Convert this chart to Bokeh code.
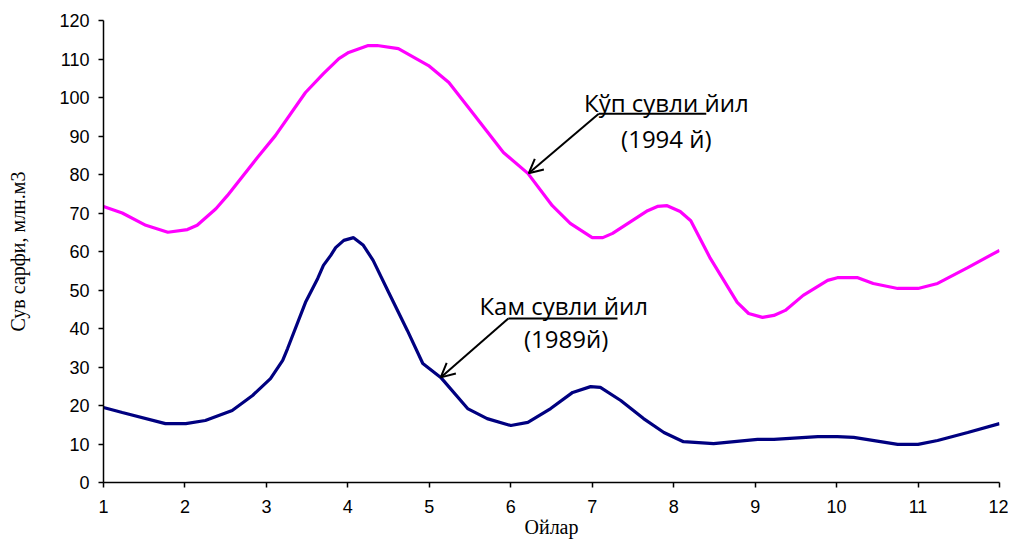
from bokeh.plotting import figure
from bokeh.models import Range1d, Arrow, OpenHead, FixedTicker, Label
from bokeh.embed import file_html
from bokeh.resources import INLINE

# Кўп сувли йил (1994 й)
x1994 = [1.00, 1.23, 1.52, 1.79, 2.03, 2.15, 2.38, 2.52, 2.89, 3.11, 3.48, 3.70, 3.89, 4.01,
         4.25, 4.36, 4.62, 4.99, 5.24, 5.54, 5.91, 6.21, 6.51, 6.73, 7.00, 7.13, 7.25, 7.68,
         7.80, 7.92, 8.08, 8.21, 8.45, 8.78, 8.92, 9.09, 9.23, 9.37, 9.59, 9.89, 10.01, 10.26,
         10.45, 10.75, 11.00, 11.24, 11.61, 12.00]
y1994 = [71.7, 70.0, 66.8, 65.0, 65.7, 66.8, 71.1, 74.5, 84.4, 90.1, 101.3, 106.2, 110.1, 111.7,
         113.5, 113.5, 112.7, 108.3, 103.9, 95.8, 85.7, 80.3, 71.9, 67.3, 63.6, 63.6, 64.7, 70.6,
         71.7, 71.9, 70.4, 68.0, 58.2, 46.8, 43.9, 42.9, 43.4, 44.7, 48.6, 52.5, 53.2, 53.2,
         51.7, 50.4, 50.4, 51.7, 55.8, 60.3]

# Кам сувли йил (1989 й)
x1989 = [1.00, 1.23, 1.76, 2.01, 2.25, 2.58, 2.83, 3.05, 3.20, 3.26, 3.48, 3.63, 3.70, 3.79,
         3.85, 3.95, 4.07, 4.19, 4.31, 4.50, 4.73, 4.92, 5.14, 5.47, 5.71, 6.00, 6.21, 6.49,
         6.76, 6.98, 7.10, 7.35, 7.63, 7.88, 8.12, 8.49, 9.03, 9.23, 9.77, 10.01, 10.21, 10.75,
         11.00, 11.24, 11.61, 12.00]
y1989 = [19.5, 18.2, 15.3, 15.3, 16.1, 18.7, 22.6, 27.0, 31.7, 34.8, 46.8, 53.0, 56.4, 59.0,
         61.0, 62.9, 63.6, 61.6, 57.7, 49.4, 39.5, 30.9, 27.3, 19.2, 16.6, 14.8, 15.6, 19.2,
         23.4, 24.9, 24.7, 21.3, 16.6, 13.0, 10.6, 10.1, 11.2, 11.2, 11.9, 11.9, 11.7, 9.9,
         9.9, 10.9, 13.0, 15.3]

x_ticks = list(range(1, 13))
y_ticks = list(range(0, 121, 10))

p = figure(width=1008, height=542, output_backend="svg", toolbar_location=None,
           x_range=Range1d(1, 12), y_range=Range1d(0, 120),
           min_border_left=103, min_border_right=9, min_border_top=20, min_border_bottom=60)
p.outline_line_color = None
p.background_fill_color = "white"
p.border_fill_color = "white"
p.grid.visible = False

for ax in (p.xaxis[0], p.yaxis[0]):
    ax.axis_line_color = "black"
    ax.axis_line_width = 1.5
    ax.major_tick_line_color = "black"
    ax.major_tick_line_width = 1.5
    ax.major_tick_in = 0
    ax.major_tick_out = 5
    ax.minor_tick_line_color = None
    ax.major_label_text_font = "Liberation Sans"
    ax.major_label_text_font_size = "18px"
    ax.major_label_text_color = "black"
    ax.axis_label_text_font = "Liberation Serif"
    ax.axis_label_text_font_style = "normal"
    ax.axis_label_text_font_size = "20px"
    ax.axis_label_text_color = "black"

p.xaxis.ticker = FixedTicker(ticks=x_ticks)
p.yaxis.ticker = FixedTicker(ticks=y_ticks)
p.xaxis.major_label_standoff = 12
p.yaxis.major_label_standoff = 9
p.xaxis.axis_label = "Ойлар"
p.xaxis.axis_label_standoff = 0
p.yaxis.axis_label = "Сув сарфи, млн.м3"
p.yaxis.axis_label_standoff = 27

p.line(x1994, y1994, line_color="#FF00FF", line_width=3.2)
p.line(x1989, y1989, line_color="#000080", line_width=3.2)

# annotations
font = "Open Sans"
for (xs, xe, yl, ax_, ay_) in [(7.08, 8.40, 95.8, 6.22, 80.3), (5.97, 7.31, 42.6, 5.14, 27.3)]:
    p.line([xs, xe], [yl, yl], line_color="black", line_width=2)
    p.add_layout(Arrow(end=OpenHead(size=14, line_width=2, line_color="black"),
                       x_start=xs, y_start=yl, x_end=ax_, y_end=ay_,
                       line_color="black", line_width=2))

labels = [("Кўп сувли йил", 7.91, 98.7), ("(1994 й)", 7.91, 89.4),
          ("Кам сувли йил", 6.65, 46.1), ("(1989й)", 6.68, 37.3)]
for t, lx, ly in labels:
    p.add_layout(Label(x=lx, y=ly, text=t, text_align="center", text_baseline="alphabetic",
                       text_font=font, text_font_size="24px", text_color="black"))

open("out.html", "w").write(file_html(p, INLINE))
